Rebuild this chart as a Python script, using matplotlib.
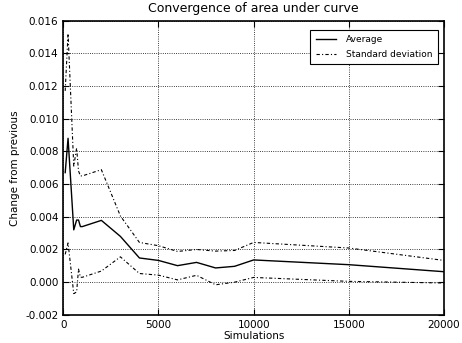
import numpy as np
import matplotlib.pyplot as plt

# simulation counts and the convergence measures
simulations = [100, 250, 550, 700, 800, 900, 1000, 2000, 3000, 4000, 5000,
               6000, 7000, 8000, 9000, 10000, 15000, 20000]
average = [0.0067, 0.0088, 0.0032, 0.0038, 0.0038, 0.0034, 0.0034, 0.00378,
           0.00280, 0.00148, 0.00133, 0.00101, 0.00121, 0.00087, 0.00097,
           0.00136, 0.00107, 0.00064]
std_dev = [0.0050, 0.0064, 0.0039, 0.0044, 0.0030, 0.0031, 0.0031, 0.0031,
           0.00125, 0.00095, 0.00090, 0.00087, 0.00079, 0.00103, 0.00097,
           0.00107, 0.00102, 0.00069]

x = np.array(simulations)
avg = np.array(average)
sd = np.array(std_dev)

fig = plt.figure(figsize=(4.62, 3.43), dpi=100)
ax = fig.add_axes([0.137, 0.082, 0.824, 0.858])

ax.plot(x, avg, color='black', linewidth=1.0, label='Average')
ax.plot(x, avg + sd, color='black', linestyle='-.', linewidth=0.8,
        dashes=(3, 2, 1, 2), label='Standard deviation')
ax.plot(x, avg - sd, color='black', linestyle='-.', linewidth=0.8,
        dashes=(3, 2, 1, 2))

ax.set_xlim(0, 20000)
ax.set_ylim(-0.002, 0.016)
ax.set_xticks([0, 5000, 10000, 15000, 20000])
ax.set_yticks(np.arange(-0.002, 0.0161, 0.002))
ax.yaxis.set_major_formatter(plt.FormatStrFormatter('%.3f'))
ax.tick_params(direction='in', top=True, right=True, labelsize=7.5, length=4)
ax.grid(True, color='black', linestyle=':', linewidth=0.6)
for s in ax.spines.values():
    s.set_linewidth(1.2)

ax.set_title('Convergence of area under curve', fontsize=9)
ax.set_xlabel('Simulations', fontsize=7.5, labelpad=1)
ax.set_ylabel('Change from previous', fontsize=7.5)

leg = ax.legend(loc='upper right', bbox_to_anchor=(0.985, 0.968),
                borderaxespad=0, fontsize=6.5, fancybox=False, framealpha=1,
                edgecolor='black', borderpad=0.6, labelspacing=0.6,
                handlelength=2.3, handletextpad=1.1)
leg.get_frame().set_linewidth(0.8)

fig.savefig('out.png', dpi=100)
